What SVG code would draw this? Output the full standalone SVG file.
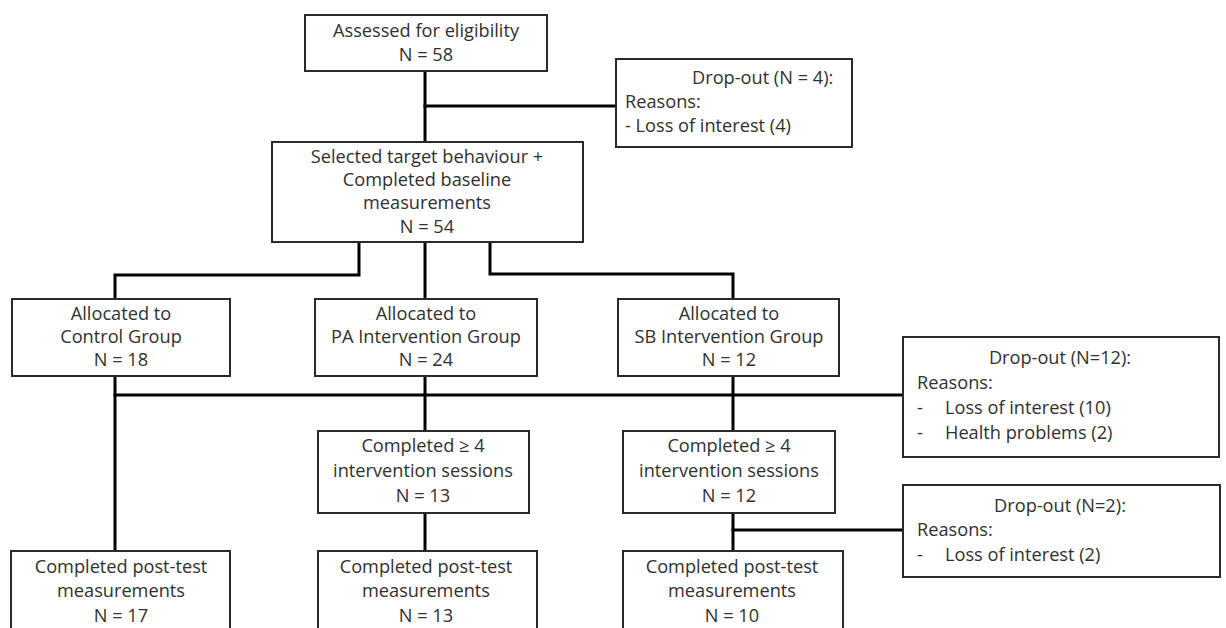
<svg xmlns="http://www.w3.org/2000/svg" width="1226" height="628" viewBox="0 0 1226 628">
  <style>
    .box { fill: #ffffff; stroke: #2a2a2a; stroke-width: 2; }
    .link { fill: none; stroke: #000000; stroke-width: 3; stroke-linejoin: miter; stroke-linecap: square; }
    text { font-family: "Open Sans", Lato, "Liberation Sans", sans-serif; font-size: 18.2px; fill: #303030; }
    .c { text-anchor: middle; }
  </style>
  <rect width="1226" height="628" fill="#ffffff"/>

  <!-- connectors -->
  <g id="connectors">
    <path class="link" d="M425,71 V142"/>
    <path class="link" d="M425,106 H616"/>
    <path class="link" d="M359,242 V275 H115 V299"/>
    <path class="link" d="M425,242 V299"/>
    <path class="link" d="M490,242 V274 H733 V299"/>
    <path class="link" d="M115,395 H903"/>
    <path class="link" d="M115,376 V551"/>
    <path class="link" d="M425,376 V431"/>
    <path class="link" d="M733,376 V431"/>
    <path class="link" d="M425,513 V551"/>
    <path class="link" d="M733,513 V551"/>
    <path class="link" d="M733,530 H903"/>
  </g>

  <g id="assessed">
    <rect class="box" x="305" y="15" width="242" height="56"/>
    <text class="c" x="426" y="37">Assessed for eligibility</text>
    <text class="c" x="426" y="61">N = 58</text>
  </g>

  <g id="dropout-baseline">
    <rect class="box" x="616" y="59" width="236" height="88"/>
    <text x="692" y="84">Drop-out (N = 4):</text>
    <text x="625" y="108">Reasons:</text>
    <text x="625" y="132">- Loss of interest (4)</text>
  </g>

  <g id="baseline">
    <rect class="box" x="272" y="142" width="311" height="100"/>
    <text class="c" x="427" y="163">Selected target behaviour +</text>
    <text class="c" x="427" y="186">Completed  baseline</text>
    <text class="c" x="427" y="209">measurements</text>
    <text class="c" x="427" y="233">N = 54</text>
  </g>

  <g id="control">
    <rect class="box" x="12" y="299" width="218" height="77"/>
    <text class="c" x="121" y="320">Allocated to</text>
    <text class="c" x="121" y="343">Control Group</text>
    <text class="c" x="121" y="366">N = 18</text>
  </g>

  <g id="pa-group">
    <rect class="box" x="315" y="299" width="222" height="77"/>
    <text class="c" x="426" y="320">Allocated to</text>
    <text class="c" x="426" y="343">PA Intervention Group</text>
    <text class="c" x="426" y="366">N = 24</text>
  </g>

  <g id="sb-group">
    <rect class="box" x="618" y="299" width="221" height="77"/>
    <text class="c" x="729" y="320">Allocated to</text>
    <text class="c" x="729" y="343">SB Intervention Group</text>
    <text class="c" x="729" y="366">N = 12</text>
  </g>

  <g id="dropout-intervention">
    <rect class="box" x="903" y="337" width="316" height="120"/>
    <text class="c" x="1060" y="364">Drop-out (N=12):</text>
    <text x="917" y="389">Reasons:</text>
    <text x="917" y="414">-</text>
    <text x="945" y="414">Loss of interest (10)</text>
    <text x="917" y="439">-</text>
    <text x="945" y="439">Health problems (2)</text>
  </g>

  <g id="pa-sessions">
    <rect class="box" x="318" y="431" width="211" height="82"/>
    <text class="c" x="423" y="452">Completed  ≥ 4</text>
    <text class="c" x="423" y="477">intervention sessions</text>
    <text class="c" x="423" y="502">N = 13</text>
  </g>

  <g id="sb-sessions">
    <rect class="box" x="623" y="431" width="212" height="82"/>
    <text class="c" x="729" y="452">Completed  ≥ 4</text>
    <text class="c" x="729" y="477">intervention sessions</text>
    <text class="c" x="729" y="502">N = 12</text>
  </g>

  <g id="dropout-posttest">
    <rect class="box" x="903" y="485" width="317" height="92"/>
    <text class="c" x="1060" y="512">Drop-out (N=2):</text>
    <text x="917" y="536">Reasons:</text>
    <text x="917" y="561">-</text>
    <text x="945" y="561">Loss of interest (2)</text>
  </g>

  <g id="control-posttest">
    <rect class="box" x="11" y="551" width="219" height="90"/>
    <text class="c" x="121" y="573">Completed  post-test</text>
    <text class="c" x="121" y="597">measurements</text>
    <text class="c" x="121" y="622">N = 17</text>
  </g>

  <g id="pa-posttest">
    <rect class="box" x="318" y="551" width="219" height="90"/>
    <text class="c" x="426" y="573">Completed  post-test</text>
    <text class="c" x="426" y="597">measurements</text>
    <text class="c" x="426" y="622">N = 13</text>
  </g>

  <g id="sb-posttest">
    <rect class="box" x="623" y="551" width="220" height="90"/>
    <text class="c" x="732" y="573">Completed  post-test</text>
    <text class="c" x="732" y="597">measurements</text>
    <text class="c" x="732" y="622">N = 10</text>
  </g>
</svg>
